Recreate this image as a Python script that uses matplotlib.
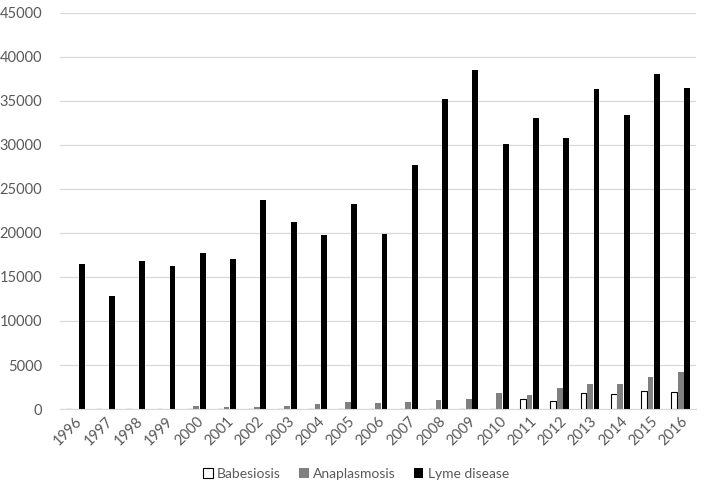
import matplotlib
matplotlib.use("Agg")
import matplotlib.pyplot as plt
import numpy as np
from matplotlib.patches import Patch

years = [str(y) for y in range(1996, 2017)]
babesiosis = [0, 0, 0, 0, 0, 0, 0, 0, 0, 0, 0, 0, 0, 0, 0,
              1124, 937, 1762, 1742, 2074, 1910]
anaplasmosis = [0, 0, 0, 0, 340, 240, 200, 370, 560, 790, 640, 830, 990, 1150, 1780,
                1600, 2390, 2800, 2800, 3650, 4170]
lyme = [16455, 12801, 16801, 16273, 17730, 17029, 23763, 21273, 19804, 23305, 19931,
        27700, 35198, 38468, 30158, 33097, 30831, 36307, 33461, 38069, 36429]

plt.rcParams['font.family'] = ['Lato', 'DejaVu Sans']
fig = plt.figure(figsize=(7.04, 4.9), dpi=100)
ax = fig.add_axes([60/704, 1-409/490, 636/704, 396/490])

x = np.arange(len(years))
w = 0.19
step = 0.215
ax.bar(x - step, babesiosis, w, color='white', edgecolor='black', linewidth=0.8, label='Babesiosis')
ax.bar(x, anaplasmosis, w, color='#808080', label='Anaplasmosis')
ax.bar(x + step, lyme, w, color='black', label='Lyme disease')

ax.set_xlim(-0.5, len(years) - 0.5)
ax.set_ylim(0, 45000)
ax.set_yticks(np.arange(0, 45001, 5000))
ax.yaxis.grid(True, color='#d9d9d9', linewidth=0.9)
ax.set_axisbelow(True)
for s in ['top', 'right', 'left']:
    ax.spines[s].set_visible(False)
ax.spines['bottom'].set_color('#d9d9d9')
ax.tick_params(axis='both', length=0, colors='#595959', labelsize=10.5)
ax.tick_params(axis='y', pad=13)
ax.set_xticks(x)
ax.set_xticklabels(years, rotation=45, ha='right', rotation_mode='anchor')
ax.tick_params(axis='x', pad=4)

handles = [Patch(facecolor='white', edgecolor='black', linewidth=0.8),
           Patch(facecolor='#808080'),
           Patch(facecolor='black')]
fig.legend(handles, ['Babesiosis', 'Anaplasmosis', 'Lyme disease'], loc='center',
           bbox_to_anchor=(356/704, 1-474/490), ncol=3, frameon=False, fontsize=10,
           handlelength=0.7, handleheight=0.7, handletextpad=0.3, columnspacing=1.3,
           labelcolor='#595959')

fig.savefig('out.png', dpi=100)
